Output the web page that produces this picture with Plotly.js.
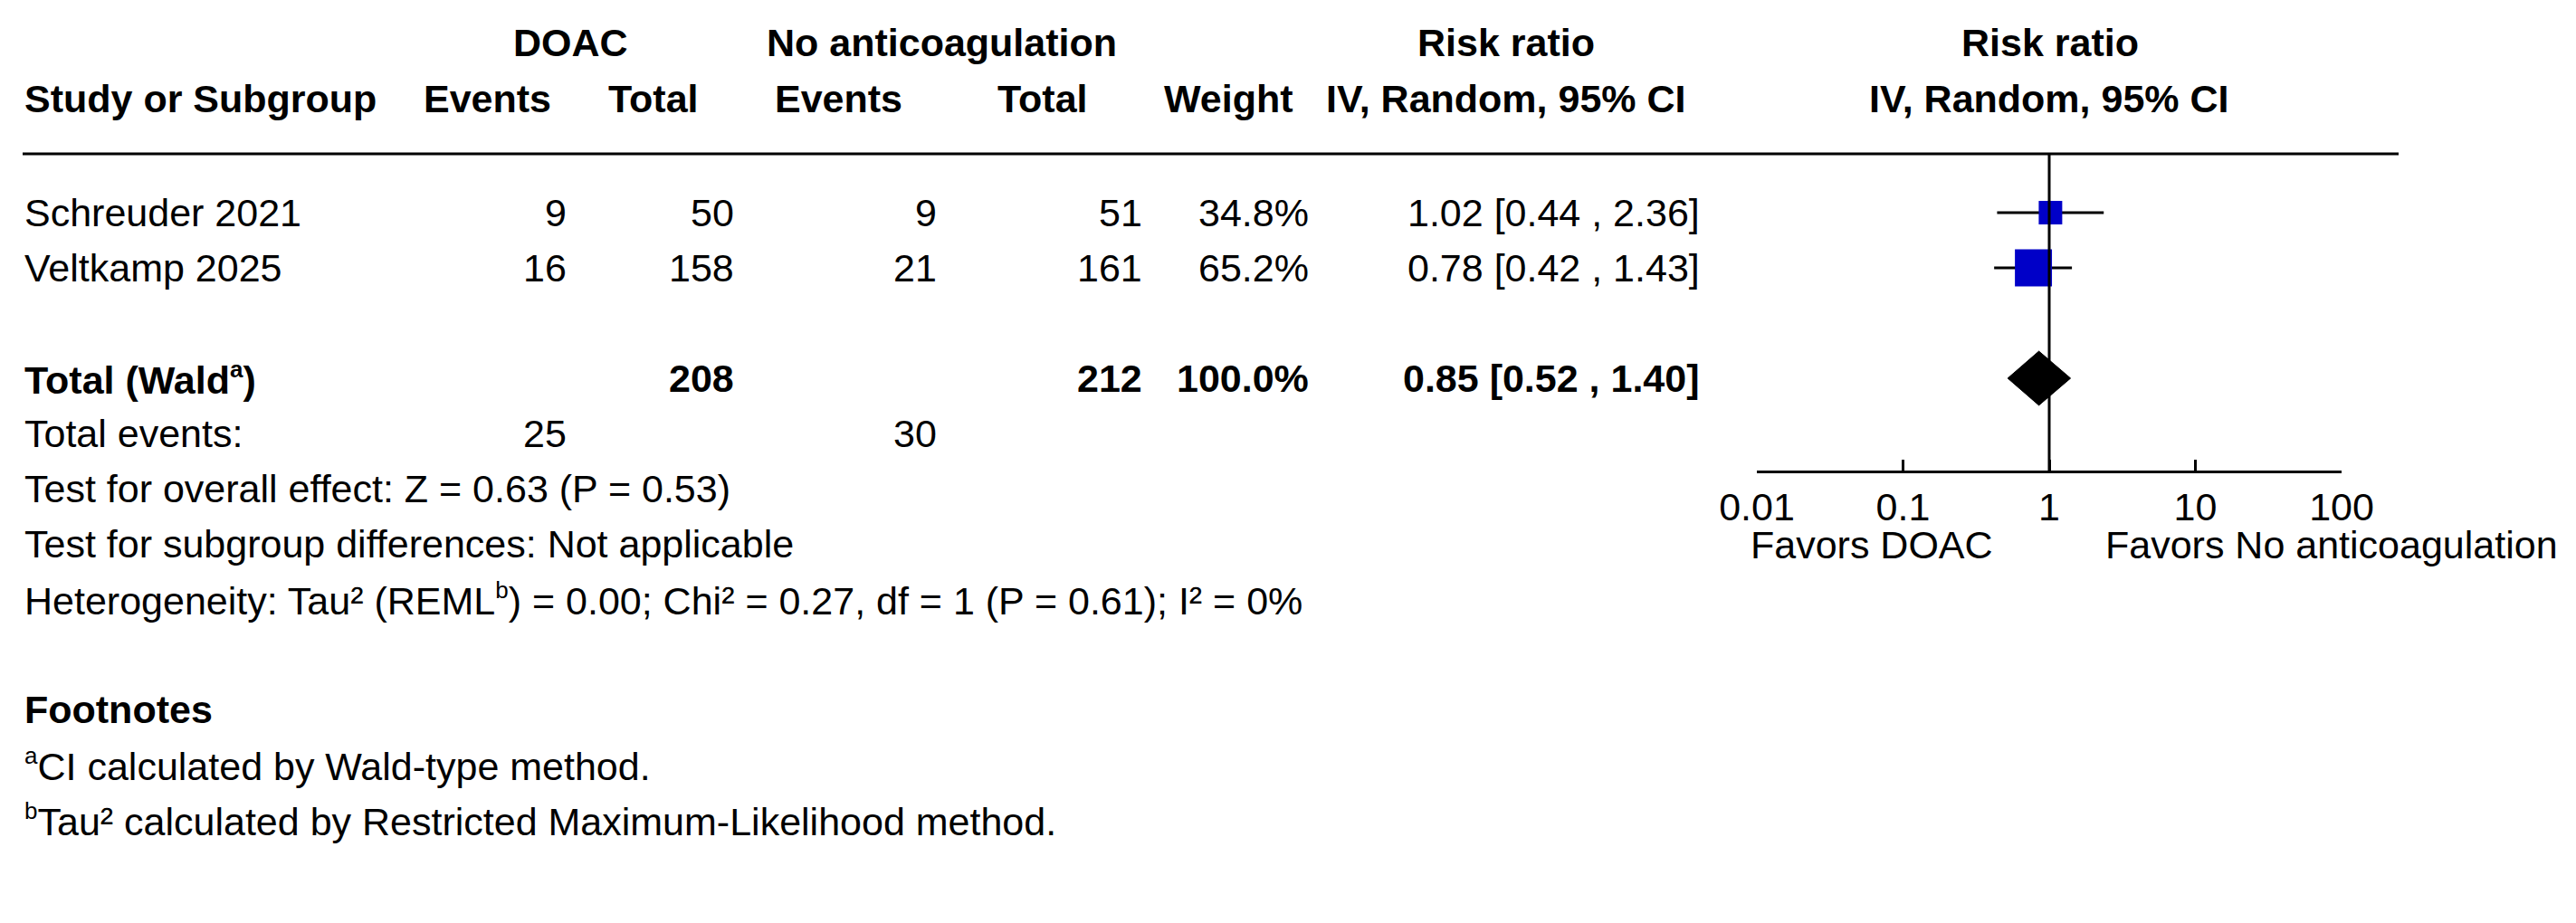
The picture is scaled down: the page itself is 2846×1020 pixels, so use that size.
<!DOCTYPE html>
<html>
<head>
<meta charset="utf-8">
<script src="https://cdn.plot.ly/plotly-3.0.1.min.js"></script>
<style>html,body{margin:0;padding:0;background:#fff;}#chart{width:2846px;height:1020px;}</style>
</head>
<body>
<div id="chart"></div>
<script>
// ---------- data ----------
const studies = ['Schreuder 2021', 'Veltkamp 2025'];
const doacEvents = [9, 16];
const doacTotal = [50, 158];
const noacEvents = [9, 21];
const noacTotal = [51, 161];
const weights = [34.8, 65.2];
const riskRatio = [1.02, 0.78];
const ciLow = [0.44, 0.42];
const ciHigh = [2.36, 1.43];

const SUP_A = '<sup><span style="font-size:26px">a</span></sup>';
const SUP_B = '<sup><span style="font-size:26px">b</span></sup>';

const totalLabel = 'Total (Wald' + SUP_A + ')';
const totalDoacN = 208;
const totalNoacN = 212;
const totalWeight = 100.0;
const totalRR = 0.85;
const totalLow = 0.52;
const totalHigh = 1.40;
const totalDoacEvents = 25;
const totalNoacEvents = 30;

const nullValue = 1;
const tickVals = [0.01, 0.1, 1, 10, 100];
const tickText = ['0.01', '0.1', '1', '10', '100'];
const favorsLeft = 'Favors DOAC';
const favorsRight = 'Favors No anticoagulation';

const groupHeaders = ['DOAC', 'No anticoagulation', 'Risk ratio', 'Risk ratio'];
const colHeaders = ['Study or Subgroup', 'Events', 'Total', 'Events', 'Total', 'Weight', 'IV, Random, 95% CI', 'IV, Random, 95% CI'];

const summaryLines = [
  'Test for overall effect: Z = 0.63 (P = 0.53)',
  'Test for subgroup differences: Not applicable',
  'Heterogeneity: Tau² (REML' + SUP_B + ') = 0.00; Chi² = 0.27, df = 1 (P = 0.61); I² = 0%'
];
const footnoteTitle = 'Footnotes';
const footnotes = [
  SUP_A + 'CI calculated by Wald-type method.',
  SUP_B + 'Tau² calculated by Restricted Maximum-Likelihood method.'
];

// ---------- layout helpers ----------
const W = 2846, H = 1020;
const FONT = 'Liberation Sans, Arial, Helvetica, sans-serif';
const FS = 43;
const ROW0 = 235, ROWH = 61;          // pixel centre of row 0 and row pitch
const px = v => v / W;
const rowOfPx = p => (p - ROW0) / ROWH;

const annotations = [];
function txt(text, xPix, row, anchor, bold) {
  annotations.push({
    text: bold ? '<b>' + text + '</b>' : text,
    x: px(xPix), xref: 'paper', xanchor: anchor,
    y: row, yref: 'y', yanchor: 'middle',
    showarrow: false,
    font: {family: FONT, size: FS, color: '#000'}
  });
}
const ciStr = (r, l, h) => r.toFixed(2) + ' [' + l.toFixed(2) + ' , ' + h.toFixed(2) + ']';

// headers
const grpX = [630, 1040, 1664, 2265];
groupHeaders.forEach((h, i) => txt(h, grpX[i], rowOfPx(47), 'center', true));
const colX = [25, 538, 722, 926, 1152, 1357, 1663, 2263];
colHeaders.forEach((h, i) => txt(h, colX[i], rowOfPx(109), i === 0 ? 'left' : 'center', true));

// study rows
const R = {ev1: 628, n1: 813, ev2: 1037, n2: 1264, w: 1448, ci: 1880};
studies.forEach((s, i) => {
  txt(s, 25, i, 'left', false);
  txt(String(doacEvents[i]), R.ev1, i, 'right', false);
  txt(String(doacTotal[i]), R.n1, i, 'right', false);
  txt(String(noacEvents[i]), R.ev2, i, 'right', false);
  txt(String(noacTotal[i]), R.n2, i, 'right', false);
  txt(weights[i].toFixed(1) + '%', R.w, i, 'right', false);
  txt(ciStr(riskRatio[i], ciLow[i], ciHigh[i]), R.ci, i, 'right', false);
});

// total row
const totalRow = studies.length + 1;
txt(totalLabel, 25, totalRow, 'left', true);
txt(String(totalDoacN), R.n1, totalRow, 'right', true);
txt(String(totalNoacN), R.n2, totalRow, 'right', true);
txt(totalWeight.toFixed(1) + '%', R.w, totalRow, 'right', true);
txt(ciStr(totalRR, totalLow, totalHigh), R.ci, totalRow, 'right', true);

// total events
txt('Total events:', 25, totalRow + 1, 'left', false);
txt(String(totalDoacEvents), R.ev1, totalRow + 1, 'right', false);
txt(String(totalNoacEvents), R.ev2, totalRow + 1, 'right', false);

summaryLines.forEach((s, i) => txt(s, 25, totalRow + 2 + i, 'left', false));
txt(footnoteTitle, 25, totalRow + 6, 'left', true);
footnotes.forEach((s, i) => txt(s, 25, totalRow + 7 + i, 'left', false));

// favours labels
const axisRow = rowOfPx(521);
txt(favorsLeft, 2068, rowOfPx(602), 'center', false);
txt(favorsRight, 2576, rowOfPx(602), 'center', false);

// ---------- traces ----------
const rows = studies.map((s, i) => i);
const studyTrace = {
  type: 'scatter', mode: 'markers',
  x: riskRatio, y: rows,
  marker: {symbol: 'square', color: '#0000C8', opacity: 1, size: weights.map(w => 8.8 + 0.493 * w), line: {width: 0}},
  error_x: {
    type: 'data', symmetric: false,
    array: riskRatio.map((r, i) => ciHigh[i] - r),
    arrayminus: riskRatio.map((r, i) => r - ciLow[i]),
    width: 0, thickness: 3, color: '#000'
  },
  hoverinfo: 'skip', cliponaxis: false
};
const dh = 0.49;
const diamond = {
  type: 'scatter', mode: 'lines',
  x: [totalLow, totalRR, totalHigh, totalRR, totalLow],
  y: [totalRow, totalRow - dh, totalRow, totalRow + dh, totalRow],
  fill: 'toself', fillcolor: '#000', line: {color: '#000', width: 1},
  hoverinfo: 'skip'
};

const layout = {
  width: W, height: H,
  margin: {l: 0, r: 0, t: 0, b: 0, pad: 0},
  paper_bgcolor: '#fff', plot_bgcolor: 'rgba(0,0,0,0)',
  showlegend: false,
  font: {family: FONT, size: FS, color: '#000'},
  xaxis: {
    type: 'log', range: [-2, 2],
    domain: [px(1941), px(2587)],
    anchor: 'free', position: 1 - 521 / H,
    showline: true, linewidth: 3, linecolor: '#000',
    ticks: 'inside', ticklen: 12, tickwidth: 3, tickcolor: '#000',
    tickvals: tickVals, ticktext: tickText,
    tickfont: {family: FONT, size: FS, color: '#000'},
    showgrid: false, zeroline: false, fixedrange: true
  },
  yaxis: {
    range: [rowOfPx(H), rowOfPx(0)], domain: [0, 1],
    visible: false, showgrid: false, zeroline: false, fixedrange: true
  },
  shapes: [
    {type: 'line', xref: 'paper', yref: 'y', x0: px(25), x1: px(2650), y0: rowOfPx(170), y1: rowOfPx(170),
     line: {color: '#000', width: 3}, layer: 'above'},
    {type: 'line', xref: 'x', yref: 'y', x0: nullValue, x1: nullValue, y0: rowOfPx(170), y1: axisRow,
     line: {color: '#000', width: 3}, layer: 'above'}
  ],
  annotations: annotations
};

Plotly.newPlot('chart', [studyTrace, diamond], layout, {displayModeBar: false, staticPlot: true});
</script>
</body>
</html>
